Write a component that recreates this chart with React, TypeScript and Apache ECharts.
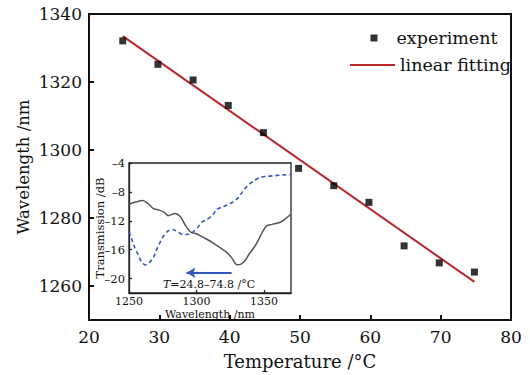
import React, { useEffect, useRef } from "react";
import * as echarts from "echarts";

const tempC = [24.8, 29.8, 34.8, 39.8, 44.8, 49.8, 54.8, 59.8, 64.8, 69.8, 74.8];
const wavelengthNm = [1332.1, 1325.2, 1320.6, 1313.1, 1305.1, 1294.6, 1289.5, 1284.6, 1271.8, 1266.8, 1264.1];
const fitT = [24.8, 74.8];
const fitNm = [1333.5, 1261.2];

const mainYTicks = [1260, 1280, 1300, 1320, 1340];

const insetXTicks = [1250, 1300, 1350];
const insetYTicks = [-20, -16, -12, -8, -4];

const grayWl = [1250, 1255, 1260, 1264, 1268, 1272, 1276, 1279, 1284, 1288, 1292, 1296, 1300, 1305, 1310, 1314, 1318, 1322, 1326, 1330, 1333, 1336, 1339, 1343, 1346, 1349, 1352, 1356, 1362, 1366, 1370];
const grayDb = [-9.7, -9.4, -9.2, -9.6, -10.3, -10.5, -10.8, -11.3, -11.0, -11.4, -12.7, -13.6, -13.8, -14.3, -14.8, -15.3, -15.8, -16.3, -17.1, -18.1, -18.0, -17.5, -16.6, -15.6, -14.6, -13.5, -12.7, -12.5, -12.2, -11.7, -11.1];

const blueWl = [1250, 1252, 1254, 1257, 1259, 1262, 1265, 1268, 1270, 1273, 1276, 1279, 1282, 1286, 1290, 1293, 1297, 1301, 1304, 1308, 1312, 1315, 1319, 1323, 1327, 1331, 1334, 1337, 1340, 1343, 1347, 1352, 1358, 1364, 1370];
const blueDb = [-13.5, -14.5, -15.6, -16.8, -17.6, -18.1, -17.8, -17.1, -16.2, -15.0, -14.0, -13.4, -13.2, -13.5, -13.9, -13.9, -13.6, -12.9, -12.2, -11.8, -11.2, -10.4, -10.1, -9.8, -9.4, -8.8, -8.0, -7.3, -6.8, -6.4, -6.0, -5.85, -5.75, -5.65, -5.6];

const arrowFrom = [1326, -19.2];
const arrowTo = [1292.6, -19.2];

const FONT = "DejaVu Serif";
const INK = "#111";
const RED = "#b8272a";
const BLUE = "#3456c4";
const GRAY = "#555";

export default function App() {
  const ref = useRef<HTMLDivElement>(null);
  useEffect(() => {
    if (!ref.current) return;
    const chart = echarts.init(ref.current, undefined, { renderer: "svg" });
    const plain = (v: number) => String(v);
    const fmtMinus = (v: number) => String(v).replace("-", "–");
    chart.setOption({
      animation: false,
      backgroundColor: "#fff",
      textStyle: { fontFamily: FONT, color: INK },
      legend: [
        {
          orient: "vertical",
          left: 365.5,
          top: 24,
          itemWidth: 7,
          itemHeight: 7,
          itemStyle: { borderWidth: 0 },
          textStyle: { fontFamily: FONT, fontSize: 17.5, color: INK, padding: [0, 0, 0, 14] },
          data: [{ name: "experiment", icon: "rect" }],
        },
        {
          orient: "vertical",
          left: 345,
          top: 51,
          itemWidth: 45,
          itemHeight: 2,
          itemStyle: { borderWidth: 0 },
          textStyle: { fontFamily: FONT, fontSize: 17.5, color: INK },
          data: [{ name: "linear fitting", icon: "rect" }],
        },
      ],
      grid: [
        {
          left: 89,
          top: 14,
          right: 19,
          bottom: 52,
          show: true,
          borderColor: INK,
          borderWidth: 2,
        },
        {
          left: 129,
          top: 163,
          width: 162,
          height: 130,
          show: true,
          backgroundColor: "#fff",
          borderColor: "#222",
          borderWidth: 1.3,
          z: 5,
        },
      ],
      xAxis: [
        {
          type: "value",
          gridIndex: 0,
          min: 20,
          max: 80,
          interval: 10,
          name: "Temperature /°C",
          nameLocation: "middle",
          nameGap: 32,
          nameMoveOverlap: false,
          nameTextStyle: { fontFamily: FONT, fontSize: 18, color: INK },
          axisLine: { lineStyle: { color: INK, width: 2 } },
          axisTick: { inside: true, length: 5, lineStyle: { color: INK, width: 2 } },
          axisLabel: { fontFamily: FONT, fontSize: 17, color: INK, margin: 8, formatter: plain },
          splitLine: { show: false },
        },
        {
          type: "value",
          gridIndex: 1,
          min: 1250,
          max: 1370,
          name: "Wavelength /nm",
          nameLocation: "middle",
          nameGap: 16,
          nameMoveOverlap: false,
          nameTextStyle: { fontFamily: FONT, fontSize: 11, color: INK },
          axisLine: { lineStyle: { color: "#222", width: 1.3 } },
          axisTick: { inside: true, length: 3, customValues: insetXTicks, lineStyle: { color: "#222", width: 1.3 } },
          axisLabel: { fontFamily: FONT, fontSize: 11, color: INK, margin: 3, customValues: insetXTicks, formatter: plain },
          splitLine: { show: false },
          z: 6,
        },
      ],
      yAxis: [
        {
          type: "value",
          gridIndex: 0,
          min: 1250,
          max: 1340,
          name: "Wavelength /nm",
          nameLocation: "middle",
          nameGap: 57,
          nameMoveOverlap: false,
          nameTextStyle: { fontFamily: FONT, fontSize: 16.5, color: INK },
          axisLine: { lineStyle: { color: INK, width: 2 } },
          axisTick: { inside: true, length: 5, customValues: mainYTicks, lineStyle: { color: INK, width: 2 } },
          axisLabel: { fontFamily: FONT, fontSize: 17, color: INK, margin: 7, customValues: mainYTicks, formatter: plain },
          splitLine: { show: false },
        },
        {
          type: "value",
          gridIndex: 1,
          min: -22,
          max: -4,
          name: "Transmission /dB",
          nameLocation: "middle",
          nameGap: 23,
          nameMoveOverlap: false,
          nameTextStyle: { fontFamily: FONT, fontSize: 11.5, color: INK },
          axisLine: { lineStyle: { color: "#222", width: 1.3 } },
          axisTick: { inside: true, length: 3, customValues: insetYTicks, lineStyle: { color: "#222", width: 1.3 } },
          axisLabel: {
            fontFamily: FONT,
            fontSize: 11.5,
            color: INK,
            margin: 4,
            customValues: insetYTicks,
            formatter: fmtMinus,
          },
          splitLine: { show: false },
          z: 6,
        },
      ],
      series: [
        {
          name: "experiment",
          type: "scatter",
          xAxisIndex: 0,
          yAxisIndex: 0,
          symbol: "rect",
          symbolSize: 7,
          itemStyle: { color: "#000" },
          data: tempC.map((t, i) => [t, wavelengthNm[i]]),
          z: 3,
        },
        {
          name: "linear fitting",
          type: "line",
          xAxisIndex: 0,
          yAxisIndex: 0,
          showSymbol: false,
          symbol: "none",
          lineStyle: { color: RED, width: 2 },
          itemStyle: { color: RED },
          data: fitT.map((t, i) => [t, fitNm[i]]),
          z: 2,
        },
        {
          name: "spectrum 24.8",
          type: "line",
          xAxisIndex: 1,
          yAxisIndex: 1,
          showSymbol: false,
          symbol: "none",
          smooth: 0.3,
          lineStyle: { color: GRAY, width: 1.5 },
          data: grayWl.map((w, i) => [w, grayDb[i]]),
          z: 7,
        },
        {
          name: "spectrum 74.8",
          type: "line",
          xAxisIndex: 1,
          yAxisIndex: 1,
          showSymbol: false,
          symbol: "none",
          smooth: 0.3,
          lineStyle: { color: BLUE, width: 1.6, type: [4, 3] },
          data: blueWl.map((w, i) => [w, blueDb[i]]),
          z: 7,
          markLine: {
            silent: true,
            symbol: ["none", "arrow"],
            symbolSize: [8, 9],
            label: { show: false },
            lineStyle: { color: BLUE, width: 2, type: "solid" },
            data: [[{ coord: arrowFrom }, { coord: arrowTo }]],
          },
        },
      ],
      graphic: [
        {
          type: "text",
          x: 163,
          y: 284,
          z: 20,
          style: {
            text: "{i|T}=24.8–74.8 /°C",
            fontFamily: FONT,
            fontSize: 11,
            fill: INK,
            verticalAlign: "middle",
            rich: {
              i: { fontStyle: "italic", fontFamily: FONT, fontSize: 11, fill: INK },
            },
          },
        },
      ],
    });
    return () => chart.dispose();
  }, []);
  return (
    <div
      ref={ref}
      style={{ position: "fixed", left: 0, top: 0, width: 530, height: 375 }}
    />
  );
}
